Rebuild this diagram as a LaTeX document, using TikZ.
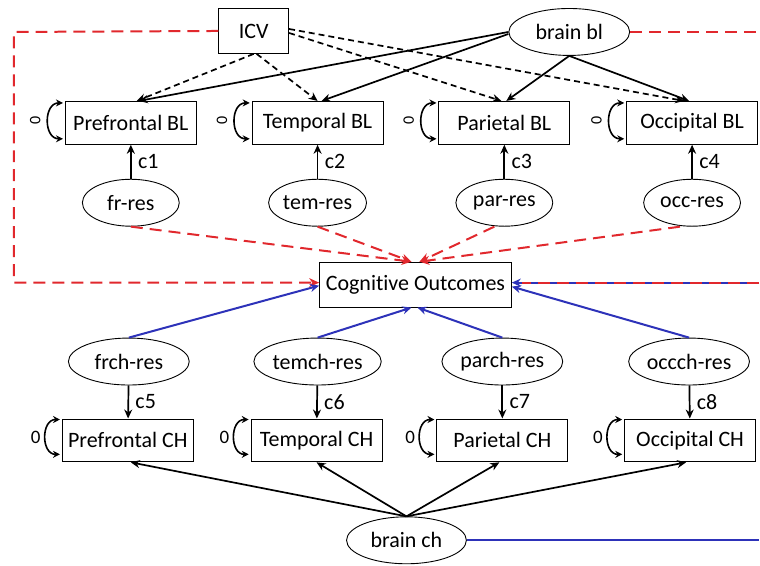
\documentclass[tikz,border=0pt]{standalone}
\usepackage{fontspec}
\setmainfont[Ligatures=NoCommon]{Carlito}
\usepackage{xcolor}
\usepackage{tikz}
\usetikzlibrary{arrows.meta, positioning, shapes.geometric}

\definecolor{semred}{RGB}{225,40,45}
\definecolor{semblue}{RGB}{45,50,185}

\begin{document}
\begin{tikzpicture}[
  x=1pt, y=-1pt,
  font=\fontsize{22}{26}\selectfont,
  >={Stealth[length=9pt,width=8pt]},
  region/.style={draw, line width=0.9pt, minimum width=131pt, minimum height=43pt, inner sep=0pt},
  resid/.style={draw, ellipse, line width=0.9pt, minimum width=97pt, minimum height=47pt, inner sep=0pt},
  chresid/.style={resid, minimum width=121pt},
  effect/.style={->, line width=1.7pt},
  cov/.style={->, dashed, dash pattern=on 6pt off 4pt, line width=1.7pt},
  reddash/.style={semred, line width=2pt, dash pattern=on 12pt off 7pt},
  bluepath/.style={semblue, line width=2pt},
  loopvar/.style={<->, line width=1.6pt, >={Stealth[length=7pt,width=7pt]}}
]
% covariates
\node[draw, line width=0.9pt, minimum width=70pt, minimum height=45pt] (icv) at (254,31) {ICV};
\node[resid, minimum width=121pt] (brainbl) at (570,32) {brain bl};

% baseline regions
\node[region] (pfbl) at (131,123) {Prefrontal BL};
\node[region] (tebl) at (318,123) {Temporal BL};
\node[region] (pabl) at (505,123) {Parietal BL};
\node[region] (ocbl) at (693,123) {Occipital BL};

\node[resid] (frres) at (131,203) {fr-res};
\node[resid] (temres) at (318,203) {tem-res};
\node[resid] (parres) at (505,203) {par-res};
\node[resid] (occres) at (693,203) {occ-res};

% outcome
\node[draw, line width=0.9pt, minimum width=192pt, minimum height=45pt] (cog) at (416,285) {Cognitive Outcomes};

% change regions
\node[chresid] (frchres) at (129,362) {frch-res};
\node[chresid] (temchres) at (318,362) {temch-res};
\node[chresid] (parchres) at (503,362) {parch-res};
\node[chresid] (occchres) at (690,362) {occch-res};

\node[region] (pfch) at (128,441) {Prefrontal CH};
\node[region] (tech) at (317,441) {Temporal CH};
\node[region] (pach) at (503,441) {Parietal CH};
\node[region] (occh) at (691,441) {Occipital CH};

\node[chresid, minimum width=120pt] (brainch) at (407,541) {brain ch};

\coordinate (lft) at (14,32);
\coordinate (rtop) at (760,32);
\coordinate (rmid) at (760,283);
\coordinate (rbot) at (760,541);

% ICV and brain bl paths
\draw[cov] (icv.south) -- ([xshift=6pt]pfbl.north);
\draw[cov] ([xshift=3pt]icv.south) -- (tebl.north);
\draw[cov] ([yshift=-2pt]icv.east) -- ([xshift=-3pt]pabl.north);
\draw[cov] ([yshift=2pt]icv.east) -- ([xshift=-8pt]ocbl.north);
\draw[effect] (brainbl.west) -- ([xshift=8pt]pfbl.north);
\draw[effect] ([yshift=-2pt]brainbl.west) -- ([xshift=4pt]tebl.north);
\draw[effect] (brainbl.south) -- ([xshift=2pt]pabl.north);
\draw[effect] (brainbl.south) -- ([xshift=-3pt]ocbl.north);

\draw[effect] (frres) -- (pfbl) node[midway, right=3pt] {c1};
\draw[effect] (temres) -- (tebl) node[midway, right=3pt] {c2};
\draw[effect] (parres) -- (pabl) node[midway, right=3pt] {c3};
\draw[effect] (occres) -- (ocbl) node[midway, right=3pt] {c4};

% fixed variances
\draw[loopvar] ([xshift=-2pt,yshift=-2pt]pfbl.north west) to[out=180, in=180, looseness=1.4] node[xshift=-13pt, rotate=90, font=\fontsize{16}{18}\selectfont] {0} ([xshift=-2pt,yshift=6pt]pfbl.south west);
\draw[loopvar] ([xshift=-2pt,yshift=-2pt]tebl.north west) to[out=180, in=180, looseness=1.4] node[xshift=-13pt, rotate=90, font=\fontsize{16}{18}\selectfont] {0} ([xshift=-2pt,yshift=6pt]tebl.south west);
\draw[loopvar] ([xshift=-2pt,yshift=-2pt]pabl.north west) to[out=180, in=180, looseness=1.4] node[xshift=-13pt, rotate=90, font=\fontsize{16}{18}\selectfont] {0} ([xshift=-2pt,yshift=6pt]pabl.south west);
\draw[loopvar] ([xshift=-2pt,yshift=-2pt]ocbl.north west) to[out=180, in=180, looseness=1.4] node[xshift=-13pt, rotate=90, font=\fontsize{16}{18}\selectfont] {0} ([xshift=-2pt,yshift=6pt]ocbl.south west);
\draw[loopvar] ([xshift=-2pt,yshift=-1pt]pfch.north west) to[out=180, in=180, looseness=1.4] node[xshift=-10pt, font=\fontsize{19}{22}\selectfont] {0} ([xshift=-2pt,yshift=8pt]pfch.south west);
\draw[loopvar] ([xshift=-2pt,yshift=-1pt]tech.north west) to[out=180, in=180, looseness=1.4] node[xshift=-10pt, font=\fontsize{19}{22}\selectfont] {0} ([xshift=-2pt,yshift=8pt]tech.south west);
\draw[loopvar] ([xshift=-2pt,yshift=-1pt]pach.north west) to[out=180, in=180, looseness=1.4] node[xshift=-10pt, font=\fontsize{19}{22}\selectfont] {0} ([xshift=-2pt,yshift=8pt]pach.south west);
\draw[loopvar] ([xshift=-2pt,yshift=-1pt]occh.north west) to[out=180, in=180, looseness=1.4] node[xshift=-10pt, font=\fontsize{19}{22}\selectfont] {0} ([xshift=-2pt,yshift=8pt]occh.south west);

% baseline effects on outcome
\draw[reddash, ->, >={Stealth[length=10pt,width=9pt]}] (icv.west) -- (lft) |- ([yshift=2pt]cog.west);
\draw[reddash] (brainbl.east) -- (rtop);
\draw[reddash, ->, >={Stealth[length=10pt,width=9pt]}] (frres.south) -- ([xshift=-4pt]cog.north);
\draw[reddash, ->, >={Stealth[length=10pt,width=9pt]}] (temres.south) -- ([xshift=-4pt]cog.north);
\draw[reddash, ->, >={Stealth[length=10pt,width=9pt]}] ([xshift=-10pt]parres.south) -- ([xshift=4pt]cog.north);
\draw[reddash, ->, >={Stealth[length=10pt,width=9pt]}] ([xshift=-12pt]occres.south) -- ([xshift=4pt]cog.north);

% change effects on outcome
\draw[bluepath, ->] (frchres.north) -- ([yshift=-1pt]cog.west);
\draw[bluepath, ->] (temchres.north) -- ([xshift=-4pt]cog.south);
\draw[bluepath, ->] (parchres.north) -- ([xshift=2pt]cog.south);
\draw[bluepath, ->] (occchres.north) -- ([yshift=-2pt]cog.east);
\draw[bluepath, ->] (rmid) -- ([yshift=2pt]cog.east);
\draw[reddash, shorten >=10pt] (rmid) -- ([yshift=2pt]cog.east);
\draw[bluepath] (brainch.east) -- (rbot);

\draw[effect] (frchres) -- (pfch) node[midway, right=3pt] {c5};
\draw[effect] (temchres) -- (tech) node[midway, right=3pt] {c6};
\draw[effect] (parchres) -- (pach) node[midway, right=3pt] {c7};
\draw[effect] (occchres) -- (occh) node[midway, right=3pt] {c8};

\draw[effect] (brainch.north) -- ([xshift=3pt]pfch.south);
\draw[effect] (brainch.north) -- (tech.south);
\draw[effect] (brainch.north) -- ([xshift=-3pt]pach.south);
\draw[effect] (brainch.north) -- ([xshift=-4pt]occh.south);

\useasboundingbox (0,0) rectangle (760,566);
\end{tikzpicture}
\end{document}
